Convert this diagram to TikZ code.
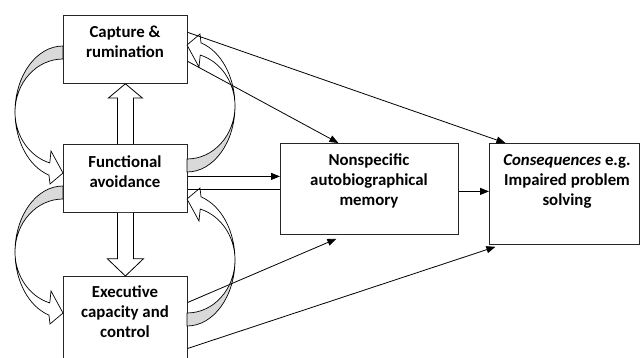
\documentclass[tikz,border=0pt]{standalone}
\usepackage{fontspec}
\setmainfont{Carlito}
\usetikzlibrary{calc,arrows.meta}
\tikzset{
  box/.style={draw=black!85, line width=0.8pt, fill=white, inner sep=0pt, anchor=north west},
  lbl/.style={font=\fontsize{16.8}{20}\selectfont\bfseries, align=center, anchor=base, inner sep=0pt},
  conn/.style={draw=black, line width=0.8pt, -{Triangle[length=9pt,width=7pt]}},
  blk/.style={draw=black, line width=0.8pt, fill=white, line join=miter},
  crvgray/.style={draw=black, line width=0.7pt, fill=black!15},
  crvwhite/.style={draw=black, line width=0.7pt, fill=white},
}
\newcommand{\crvarrow}{%
  \path[crvgray] (63,311) arc[start angle=90,end angle=180,x radius=48,y radius=66]
     arc[start angle=180,end angle=90,x radius=48,y radius=53] -- cycle;
  \path[crvwhite] (15,245) arc[start angle=180,end angle=253,x radius=48,y radius=66]
     -- (50,173) -- (63,184) -- (51,206) -- (49.77,194.05)
     arc[start angle=254,end angle=180,x radius=48,y radius=53] -- cycle;
}
\begin{document}
\begin{tikzpicture}[x=1pt,y=1pt]
\useasboundingbox[fill=white] (0,0) rectangle (641,357);
% boxes
\node[box, minimum width=124pt, minimum height=68pt] (cap) at (63,342) {};
\node[box, minimum width=124pt, minimum height=68pt] (fun) at (63,213) {};
\node[box, minimum width=124pt, minimum height=86pt] (exe) at (63,81) {};
\node[box, minimum width=178pt, minimum height=91pt] (mem) at (280,214) {};
\node[box, minimum width=150pt, minimum height=101pt] (con) at (489,214) {};
% block arrows
\path[blk] ($(fun.north)+(-8,0)$) -- ++(0,46) -- ++(-9,0) -- ($(cap.south)$) -- ($(fun.north)+(17,46)$) -- ++(-9,0) -- ($(fun.north)+(8,0)$);
\path[blk] ($(fun.south)+(-8,0)$) -- ++(0,-46) -- ++(-10,0) -- ($(exe.north)$) -- ($(fun.south)+(18,-46)$) -- ++(-10,0) -- ($(fun.south)+(8,0)$);
% curved arrows
\crvarrow
\begin{scope}[shift={(0,-140)}]\crvarrow\end{scope}
\begin{scope}[rotate around={180:(125,248)}]\crvarrow\end{scope}
\begin{scope}[shift={(0,-154)}]\begin{scope}[rotate around={180:(125,248)}]\crvarrow\end{scope}\end{scope}
% connectors
\draw[conn] ([yshift=17pt]cap.east) -- ([xshift=-59pt]con.north);
\draw[conn] ([yshift=-12pt]cap.east) -- ([xshift=-31pt]mem.north);
\draw[conn] ([yshift=2pt]fun.east) -- ([yshift=12.5pt]mem.west);
\draw[line width=1.6pt] ([yshift=-11pt]fun.east) -- ([yshift=-0.5pt]mem.west);
\draw[conn] ([yshift=17pt]exe.east) -- ([xshift=-33pt,yshift=-4pt]mem.south);
\draw[conn] ([yshift=-29pt]exe.east) -- ([xshift=-69pt,yshift=-2pt]con.south);
\draw[conn] ([yshift=-2.5pt]mem.east) -- ([yshift=2.5pt]con.west);
% labels (anchor = last baseline)
\node[lbl] (capt) at (125,299) {Capture \&\\rumination};
\node[lbl] (funt) at (125,170) {Functional\\avoidance};
\node[lbl] (exet) at (125,20) {Executive\\capacity and\\control};
\node[lbl] (memt) at (369,152) {Nonspecific\\autobiographical\\memory};
\node[lbl] (cont) at (567,152) {\textit{Consequences} e.g.\\Impaired problem\\solving};
\end{tikzpicture}
\end{document}
